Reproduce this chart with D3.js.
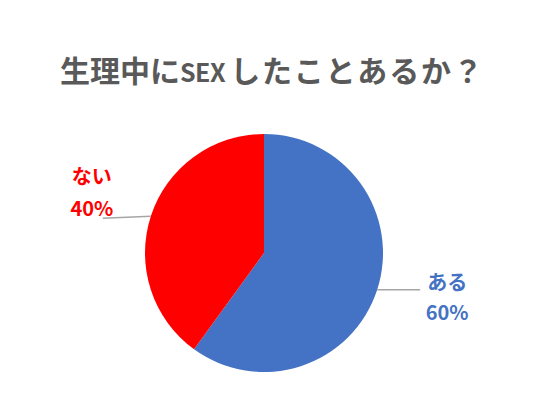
<!DOCTYPE html>
<html>
<head>
<meta charset="utf-8">
<script src="https://cdn.jsdelivr.net/npm/d3@7"></script>
<style>
  html, body { margin: 0; padding: 0; background: #fff; }
  svg { display: block; font-family: "Noto Sans CJK JP", "Noto Sans", sans-serif; }
</style>
</head>
<body>
<div id="chart"></div>
<script>
// chart data
const labels = ["ある", "ない"];
const values = [60, 40];
const colors = ["#4472C4", "#FF0000"];

const width = 540, height = 395;
const cx = 264, cy = 253, radius = 119;

const svg = d3.select("#chart")
    .append("svg")
    .attr("width", width)
    .attr("height", height);

// title, latin part drawn a bit smaller like the source font
const title = svg.append("text")
    .attr("x", 60)
    .attr("y", 82)
    .attr("fill", "#595959")
    .attr("font-weight", "bold")
    .attr("font-size", 30);
title.append("tspan").text("生理中に");
title.append("tspan").attr("font-size", 25).attr("letter-spacing", -0.5).text("SEX");
title.append("tspan").attr("dx", 5).attr("letter-spacing", 1.8).text("したことあるか？");

const pie = d3.pie().sort(null).value(d => d.value);
const data = pie(labels.map((l, i) => ({ label: l, value: values[i], color: colors[i] })));

const arc = d3.arc().innerRadius(0).outerRadius(radius);

const g = svg.append("g").attr("transform", `translate(${cx},${cy})`);

g.selectAll("path.slice")
    .data(data)
    .enter()
    .append("path")
        .attr("class", "slice")
        .attr("d", arc)
        .attr("fill", d => d.data.color);

// leader lines + labels
const edge = d => {
    const a = (d.startAngle + d.endAngle) / 2;
    return [Math.sin(a) * radius, -Math.cos(a) * radius];
};

const leader = [
    { len: 43, dy: 0, tx: 27, ty1: -8, ty2: 22 },   // ある
    { len: -48, dy: 2, tx: -11, ty1: -41, ty2: -9 } // ない
];

data.forEach((d, i) => {
    const [x0, y0] = edge(d);
    const o = leader[i];
    const x1 = x0 + o.len;
    g.append("line")
        .attr("x1", x0).attr("y1", y0)
        .attr("x2", x1).attr("y2", y0 + o.dy)
        .attr("stroke", "#A6A6A6")
        .attr("stroke-width", 1.3);

    const t = g.append("text")
        .attr("fill", d.data.color)
        .attr("font-weight", "bold")
        .attr("font-size", 20)
        .attr("text-anchor", "middle");
    const tx = x1 + o.tx;
    t.append("tspan").attr("x", tx).attr("y", y0 + o.ty1).attr("dominant-baseline", "central").text(d.data.label);
    t.append("tspan").attr("x", tx).attr("y", y0 + o.ty2).attr("dominant-baseline", "central").text(d.data.value + "%");
});
</script>
</body>
</html>
